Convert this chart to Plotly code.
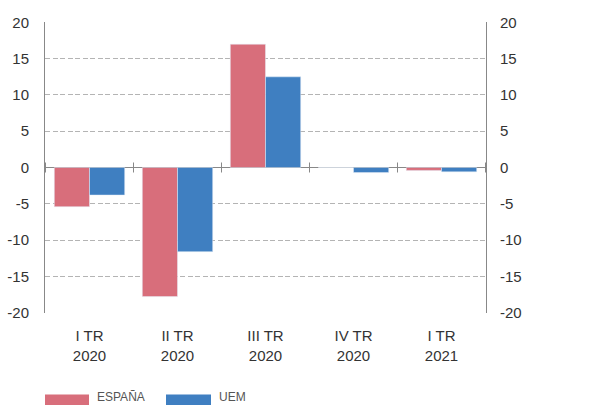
import plotly.graph_objects as go

# data
quarters = ["I TR<br>2020", "II TR<br>2020", "III TR<br>2020", "IV TR<br>2020", "I TR<br>2021"]
espana = [-5.4, -17.8, 17.0, 0.0, -0.4]
uem = [-3.8, -11.6, 12.5, -0.7, -0.6]
series_names = ["ESPAÑA", "UEM"]
y_ticks = [-20, -15, -10, -5, 0, 5, 10, 15, 20]
y_ticklabels = [str(v) for v in y_ticks]  # plain hyphen like the original

col_es = "#D86E7B"
col_uem = "#3F7FC1"
W, H = 609, 405
L, R, T, B = 45, 123, 22, 92
pw, ph = W - L - R, H - T - B

def px_x(p):
    return (p - L) / pw

def px_y(p):
    return (H - B - p) / ph

font = "Liberation Sans, Arial, sans-serif"
yrange = [-20.06, 20.06]  # tiny pad so the +-20 gridlines are drawn

fig = go.Figure()
fig.add_trace(go.Bar(x=quarters, y=espana, name=series_names[0], marker_color=col_es))
fig.add_trace(go.Bar(x=quarters, y=uem, name=series_names[1], marker_color=col_uem))
# invisible trace so the right axis gets drawn
fig.add_trace(go.Scatter(x=quarters, y=uem, yaxis="y2", mode="none",
                         showlegend=False, hoverinfo="skip"))

tickfont = dict(size=15, color="#333333")
fig.update_layout(
    width=W, height=H,
    margin=dict(l=L, r=R, t=T, b=B),
    paper_bgcolor="white", plot_bgcolor="white",
    font=dict(family=font, color="#333333"),
    barmode="group", bargap=0.2, bargroupgap=0,
    showlegend=False,
    xaxis=dict(showgrid=False, showline=False, ticks="", ticklabelstandoff=12,
               tickfont=tickfont, automargin=False),
    yaxis=dict(range=yrange, tickvals=y_ticks, ticktext=y_ticklabels,
               showgrid=True, gridcolor="#b4b4b4",
               griddash="5px,2.5px", gridwidth=1, zeroline=True, zerolinecolor="#888888",
               zerolinewidth=1, showline=True, linecolor="#888888", linewidth=1,
               ticks="", ticklabelstandoff=12, tickfont=tickfont, automargin=False),
    yaxis2=dict(range=yrange, tickvals=y_ticks, ticktext=y_ticklabels,
                overlaying="y", side="right",
                showgrid=False, zeroline=False, showline=True, linecolor="#888888",
                ticks="", ticklabelstandoff=10, tickfont=tickfont, automargin=False),
)

# category boundary ticks across the zero line
for i in range(len(quarters) + 1):
    fig.add_shape(type="line", xref="x", yref="y", x0=i - 0.5, x1=i - 0.5,
                  ysizemode="pixel", yanchor=0, y0=-5, y1=5,
                  line=dict(color="#888888", width=1))

# custom legend with wide swatches
legend_items = [(series_names[0], col_es, 45, 89), (series_names[1], col_uem, 166, 211)]
for name, col, x0, x1 in legend_items:
    fig.add_shape(type="rect", xref="paper", yref="paper",
                  x0=px_x(x0), x1=px_x(x1), y0=px_y(405), y1=px_y(394.5),
                  fillcolor=col, line=dict(width=0))
    fig.add_annotation(xref="paper", yref="paper", x=px_x(x1 + 6), y=px_y(397),
                       text=name, showarrow=False, xanchor="left", yanchor="middle",
                       font=dict(family="Liberation Sans Narrow, Arial Narrow, Liberation Sans",
                                 size=12, color="#555555"))

fig.write_html("out.html", config={"displayModeBar": False},
               post_script="document.body.style.margin = '0';")
